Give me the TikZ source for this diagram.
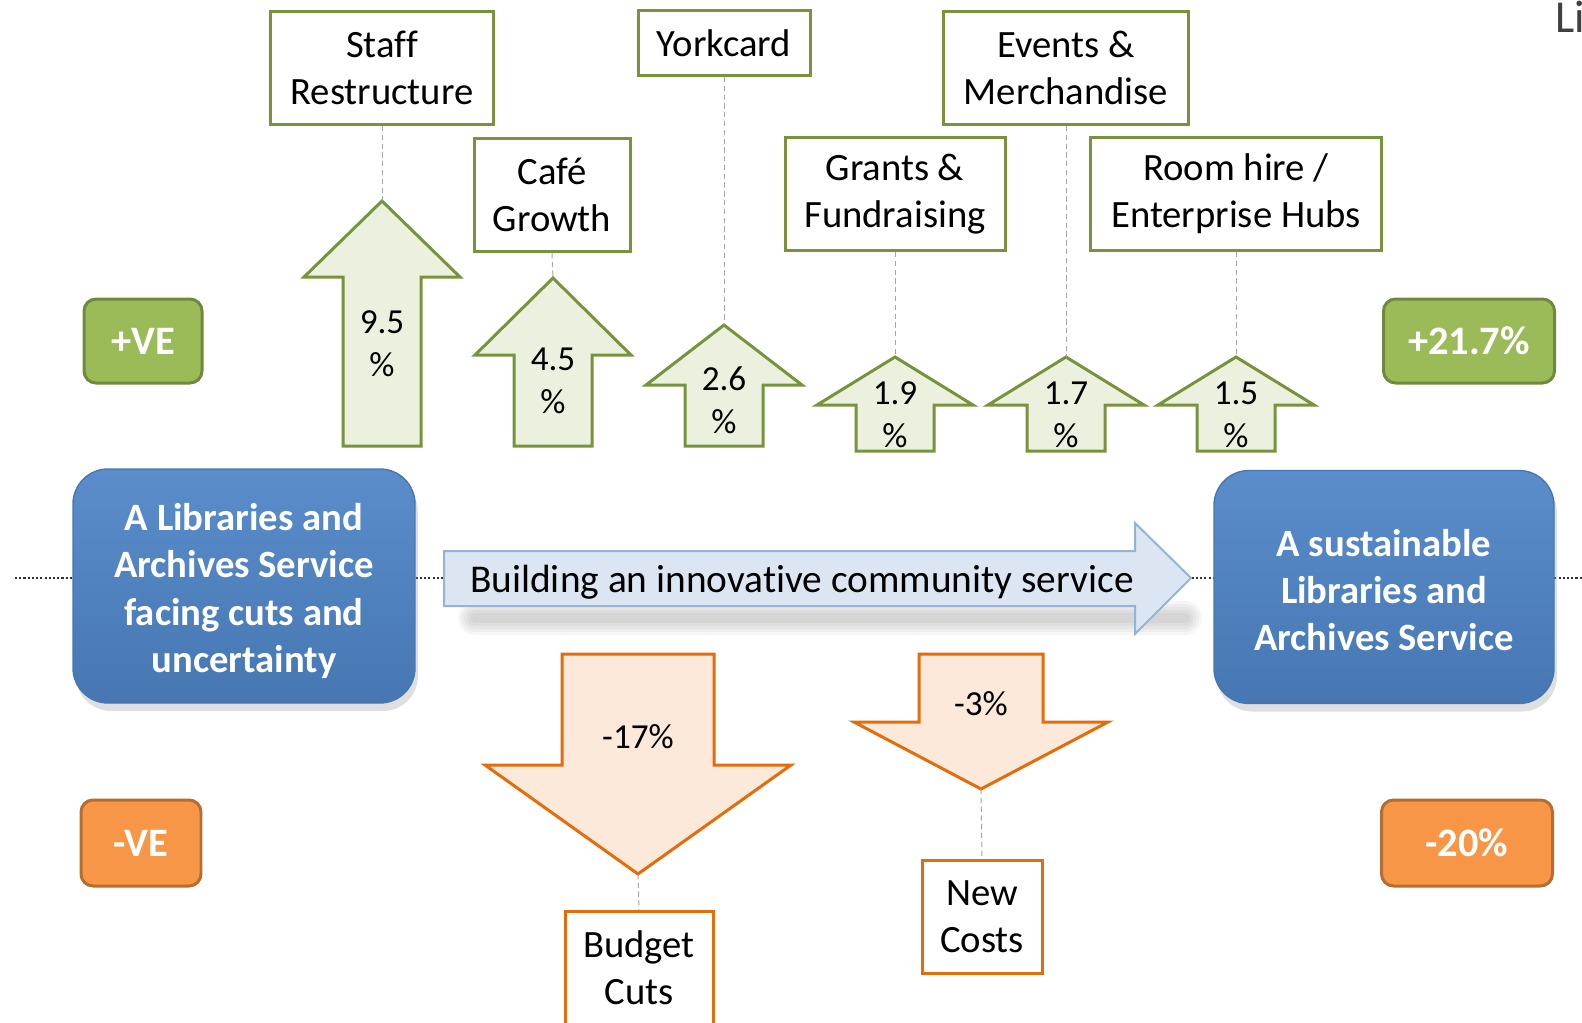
\documentclass[tikz,border=0pt]{standalone}
\usepackage{fontspec}
\setmainfont{Carlito}[Ligatures=NoCommon]
\usetikzlibrary{shadows}

\definecolor{gainline}{HTML}{77933C}
\definecolor{gainfill}{HTML}{EBF1DE}
\definecolor{lossline}{HTML}{E46C0A}
\definecolor{lossfill}{HTML}{FDE9D9}
\definecolor{gaintag}{HTML}{9BBB59}
\definecolor{gaintagline}{HTML}{71893F}
\definecolor{losstag}{HTML}{F79646}
\definecolor{losstagline}{HTML}{B66D31}
\definecolor{servtop}{HTML}{5A8DCA}
\definecolor{servbot}{HTML}{4677B3}
\definecolor{pathfill}{HTML}{DCE6F2}
\definecolor{pathline}{HTML}{95B3D7}

\begin{document}
\begin{tikzpicture}
	[x=0.1mm,y=-0.1mm,line join=miter,
	gainbox/.style={rectangle,draw=gainline,fill=white,line width=0.3mm,align=center,inner sep=0pt,minimum height=11.3mm,font=\fontsize{11}{13.4}\selectfont},
	lossbox/.style={gainbox,draw=lossline},
	riseshape/.style={draw=gainline,fill=gainfill,line width=0.3mm},
	fallshape/.style={draw=lossline,fill=lossfill,line width=0.3mm},
	pcttext/.style={align=center,inner sep=0pt,font=\fontsize{10}{12.2}\selectfont},
	scorebox/.style={rectangle,rounded corners=1.2mm,line width=0.3mm,text=white,inner sep=0pt,minimum height=8.4mm,font=\bfseries\fontsize{11.5}{14}\selectfont},
	service/.style={rectangle,rounded corners=3.5mm,top color=servtop,bottom color=servbot,draw=servbot,inner sep=0pt,drop shadow={opacity=.25,shadow xshift=.3mm,shadow yshift=-.8mm}},
	servicetext/.style={text=white,align=center,inner sep=0pt,font=\bfseries\fontsize{11}{13.4}\selectfont},
	linkline/.style={draw=gray!70,dash pattern=on 1.5pt off 1pt,line width=0.1mm}]

	\useasboundingbox (0,0) rectangle (1582,1023);

	% dotted guide behind everything
	\coordinate (lineL) at (15,578);
	\coordinate (lineR) at (1582,578);
	\draw[black!80,line width=0.6pt,dash pattern=on 0.6pt off 0.6pt] (lineL) -- (lineR);

	% journey arrow
	\foreach \w in {34,28,22,16,10}
	\draw[black,opacity=.035,line width={\w*0.1mm},line cap=round] (475,618) -- (1185,618);
	\draw[fill=pathfill,draw=pathline,line width=0.2mm] (444,551) -- (1135,551) -- (1135,523) -- (1191,578) -- (1135,634) -- (1135,606) -- (444,606) -- cycle;
	\node[inner sep=0pt,font=\fontsize{11.2}{13.4}\selectfont] (journey) at (802,582) {Building an innovative community service};

	\node[service,minimum width=34.2mm,minimum height=23.4mm] (start) at (244,586) {};
	\node[servicetext] (starttext) at (244,591) {A Libraries and\\Archives Service\\facing cuts and\\uncertainty};
	\node[service,minimum width=34mm,minimum height=23.3mm] (goal) at (1384,587) {};
	\node[servicetext] (goaltext) at (1384,590) {A sustainable\\Libraries and\\Archives Service};

	% income sources
	\node[gainbox,minimum width=22.3mm] (staff) at (382,68) {Staff\\Restructure};
	\node[gainbox,minimum width=15.6mm] (cafe) at (552,195) {Café\\Growth};
	\node[gainbox,minimum width=17.2mm,minimum height=6.5mm] (york) at (724,43) {Yorkcard};
	\node[gainbox,minimum width=22mm] (grants) at (895,194) {Grants \&\\Fundraising};
	\node[gainbox,minimum width=24.5mm] (events) at (1066,68) {Events \&\\Merchandise};
	\node[gainbox,minimum width=29.1mm] (room) at (1236,194) {Room hire /\\Enterprise Hubs};

	\foreach \nm/\x/\tip/\base/\bot/\ty/\val in {up95/382/201/277/446/344/9.5,up45/553/278/355/446/381/4.5,up26/724/325/385/446/400/2.6,up19/895/357/405/451/415/1.9,up17/1066/357/405/451/415/1.7,up15/1236/357/405/451/415/1.5}{
	\draw[riseshape] (\x-39,\bot) -- (\x-39,\base) -- (\x-78,\base) -- (\x,\tip) coordinate (\nm-tip) -- (\x+78,\base) -- (\x+39,\base) -- (\x+39,\bot) -- cycle;
	\node[pcttext] (\nm) at (\x,\ty) {\val\\\%};
	}

	\foreach \from/\to in {staff/up95-tip,cafe/up45-tip,york/up26-tip,grants/up19-tip,events/up17-tip,room/up15-tip}
	\draw[linkline] (\from.south) -- (\to);

	% costs
	\foreach \nm/\x/\hw/\sw/\top/\base/\tip/\ty/\val in {cut17/638/153/76/654/765/874/737/-17\%,cost3/981/127/62/654/722/789/704/-3\%}{
	\draw[fallshape] (\x-\sw,\top) -- (\x+\sw,\top) -- (\x+\sw,\base) -- (\x+\hw,\base) -- (\x,\tip) coordinate (\nm-tip) -- (\x-\hw,\base) -- (\x-\sw,\base) -- cycle;
	\node[pcttext] (\nm) at (\x,\ty) {\val};
	}

	\node[lossbox,minimum width=14.8mm] (budget) at (639,968) {Budget\\Cuts};
	\node[lossbox,minimum width=12mm] (newcost) at (982,917) {New\\Costs};

	\draw[linkline] (cut17-tip) -- (budget.north);
	\draw[linkline] (cost3-tip) -- (newcost.north);

	% totals
	\node[scorebox,fill=gaintag,draw=gaintagline,minimum width=11.8mm] (plus) at (143,341) {+VE};
	\node[scorebox,fill=gaintag,draw=gaintagline,minimum width=17.1mm] (plustotal) at (1469,341) {+21.7\%};
	\node[scorebox,fill=losstag,draw=losstagline,minimum width=12mm,minimum height=8.6mm] (minus) at (141,843) {-VE};
	\node[scorebox,fill=losstag,draw=losstagline,minimum width=17.1mm,minimum height=8.6mm] (minustotal) at (1467,843) {-20\%};

	\node[anchor=base west,inner sep=0pt,text=black!75,font=\fontsize{13}{16}\selectfont] (title) at (1555,32) {Li};
\end{tikzpicture}
\end{document}
